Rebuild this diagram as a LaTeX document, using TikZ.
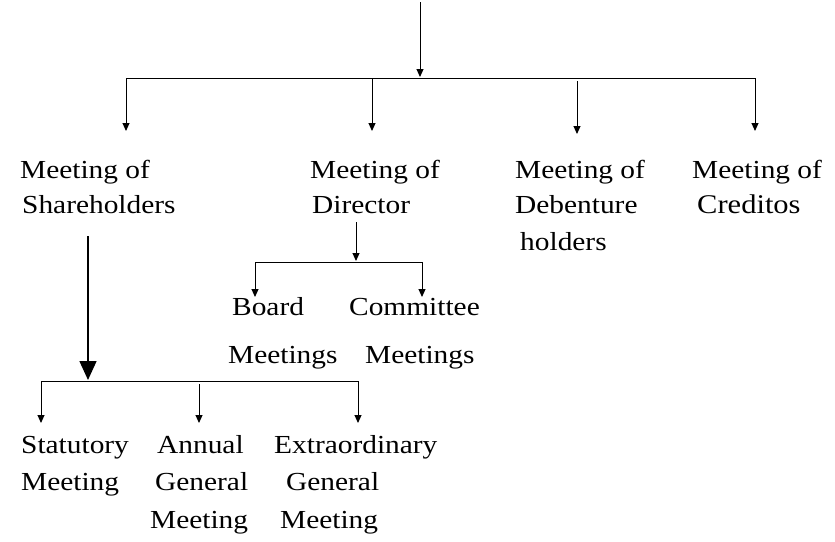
\documentclass[tikz,border=0pt]{standalone}
\usepackage{fontspec}
\setmainfont{Liberation Serif}[FakeStretch=1.13]
\usetikzlibrary{arrows.meta}
\begin{document}
\begin{tikzpicture}[x=1pt,y=-1pt,
  lbl/.style={anchor=base west, inner sep=0pt, font=\fontsize{26}{30}\selectfont},
  con/.style={line width=1pt},
  arr/.style={con, -{Triangle[width=7pt,length=8pt]}},
  bigarr/.style={line width=1.5pt, -{Triangle[width=17pt,length=19pt]}}]
\useasboundingbox (0,0) rectangle (835,541);
% labels
\node[lbl] (sh1) at (20,178) {Meeting of};
\node[lbl] (sh2) at (22,213) {Shareholders};
\node[lbl] (di1) at (310,178) {Meeting of};
\node[lbl] (di2) at (312,213) {Director};
\node[lbl] (de1) at (515,178) {Meeting of};
\node[lbl] (de2) at (515,213) {Debenture};
\node[lbl] (de3) at (520,250) {holders};
\node[lbl] (cr1) at (692,178) {Meeting of};
\node[lbl,font=\fontsize{27}{30}\selectfont] (cr2) at (697,213) {Creditos};
\node[lbl] (bo1) at (232,315) {Board};
\node[lbl] (bo2) at (228,363) {Meetings};
\node[lbl] (co1) at (349,315) {Committee};
\node[lbl] (co2) at (365,363) {Meetings};
\node[lbl] (st1) at (21,453) {Statutory};
\node[lbl] (st2) at (21,490) {Meeting};
\node[lbl] (an1) at (157,453) {Annual};
\node[lbl] (an2) at (155,490) {General};
\node[lbl] (an3) at (150,528) {Meeting};
\node[lbl] (ex1) at (274,453) {Extraordinary};
\node[lbl] (ex2) at (286,490) {General};
\node[lbl] (ex3) at (280,528) {Meeting};
% coordinates
\coordinate (top) at (420,2);
\coordinate (hub) at (420,77);
\coordinate (hl) at (126,78);
\coordinate (hr) at (755,78);
\coordinate (b1s) at (126,78);  \coordinate (b1e) at (126,131);
\coordinate (b2s) at (372,78);  \coordinate (b2e) at (372,131);
\coordinate (b3s) at (577,81);  \coordinate (b3e) at (577,134);
\coordinate (b4s) at (755,78);  \coordinate (b4e) at (755,131);
\coordinate (ds) at (356,222);  \coordinate (de) at (356,261);
\coordinate (dl) at (255,262);  \coordinate (dr) at (422,262);
\coordinate (dle) at (255,297); \coordinate (dre) at (422,297);
\coordinate (ss) at (88,236);   \coordinate (se) at (88,380);
\coordinate (sl) at (41,381);   \coordinate (sr) at (358,381);
\coordinate (smS) at (199,384);
\coordinate (sle) at (41,423);  \coordinate (sme) at (199,423); \coordinate (sre) at (358,423);
% connectors
\draw[arr] (top) -- (hub);
\draw[con] (hl) -- (hr);
\draw[arr] (b1s) -- (b1e);
\draw[arr] (b2s) -- (b2e);
\draw[arr] (b3s) -- (b3e);
\draw[arr] (b4s) -- (b4e);
\draw[arr] (ds) -- (de);
\draw[con] (dl) -- (dr);
\draw[arr] (dl) -- (dle);
\draw[arr] (dr) -- (dre);
\draw[bigarr] (ss) -- (se);
\draw[con] (sl) -- (sr);
\draw[arr] (sl) -- (sle);
\draw[arr] (smS) -- (sme);
\draw[arr] (sr) -- (sre);
\end{tikzpicture}
\end{document}
